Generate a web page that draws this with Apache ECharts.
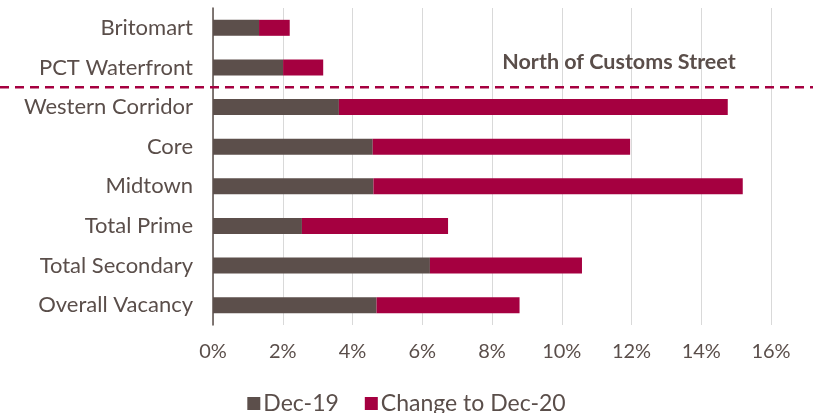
<!DOCTYPE html>
<html><head><meta charset="utf-8">
<script src="https://cdn.jsdelivr.net/npm/echarts@6/dist/echarts.min.js"></script>
<style>html,body{margin:0;padding:0;background:#fff}#c{width:813px;height:413px}</style>
</head><body><div id="c"></div>
<script>
const categories = ['Britomart','PCT Waterfront','Western Corridor','Core','Midtown','Total Prime','Total Secondary','Overall Vacancy'];
const dec19 = [1.32, 2.01, 3.61, 4.58, 4.60, 2.55, 6.22, 4.69];
const changeToDec20 = [0.88, 1.15, 11.15, 7.38, 10.59, 4.19, 4.36, 4.10];
const xTicks = [0, 2, 4, 6, 8, 10, 12, 14, 16];
const annotation = 'North of Customs Street';

const FONT = 'Lato';
const TXT = '#5a4e4a';
const chart = echarts.init(document.getElementById('c'));
chart.setOption({
  animation: false,
  textStyle: {fontFamily: FONT},
  grid: {left: 213, right: 42, top: 8, bottom: 88, containLabel: false},
  legend: {
    top: 387, left: 'center', itemWidth: 13, itemHeight: 13, itemGap: 26, icon: 'rect',
    textStyle: {fontSize: 23, color: TXT, fontFamily: FONT, padding: [0, 0, 0, -2]},
    data: ['Dec-19', 'Change to Dec-20']
  },
  xAxis: {
    type: 'value', min: xTicks[0], max: xTicks[xTicks.length - 1], interval: 2,
    axisLabel: {formatter: v => v + '%', fontSize: 20, color: TXT, margin: 17},
    axisLine: {show: false}, axisTick: {show: false},
    splitLine: {show: true, lineStyle: {color: '#d9d9d9', width: 1}}
  },
  yAxis: {
    type: 'category', data: categories, inverse: true,
    axisLabel: {fontSize: 22, color: TXT, margin: 20},
    axisLine: {show: true, lineStyle: {color: '#5a4e4a', width: 1.5}},
    axisTick: {show: false}
  },
  series: [
    {name: 'Dec-19', type: 'bar', stack: 'a', data: dec19, barWidth: 16, itemStyle: {color: '#5c4f4b'}},
    {name: 'Change to Dec-20', type: 'bar', stack: 'a', data: changeToDec20, barWidth: 16, itemStyle: {color: '#a50040'}}
  ]
});
const y1 = chart.convertToPixel({yAxisIndex: 0}, categories[1]);
const y2 = chart.convertToPixel({yAxisIndex: 0}, categories[2]);
const yd = (y1 + y2) / 2;
chart.setOption({
  graphic: [
    {type: 'line', shape: {x1: 0, y1: yd, x2: 813, y2: yd}, style: {stroke: '#a50040', lineWidth: 2.5, lineDash: [9, 6]}, z: 10},
    {type: 'text', x: 619, y: y1 - 5, style: {text: annotation, fill: TXT, font: 'bold 21.5px ' + FONT, textAlign: 'center', textVerticalAlign: 'middle'}, z: 10}
  ]
});
</script></body></html>
